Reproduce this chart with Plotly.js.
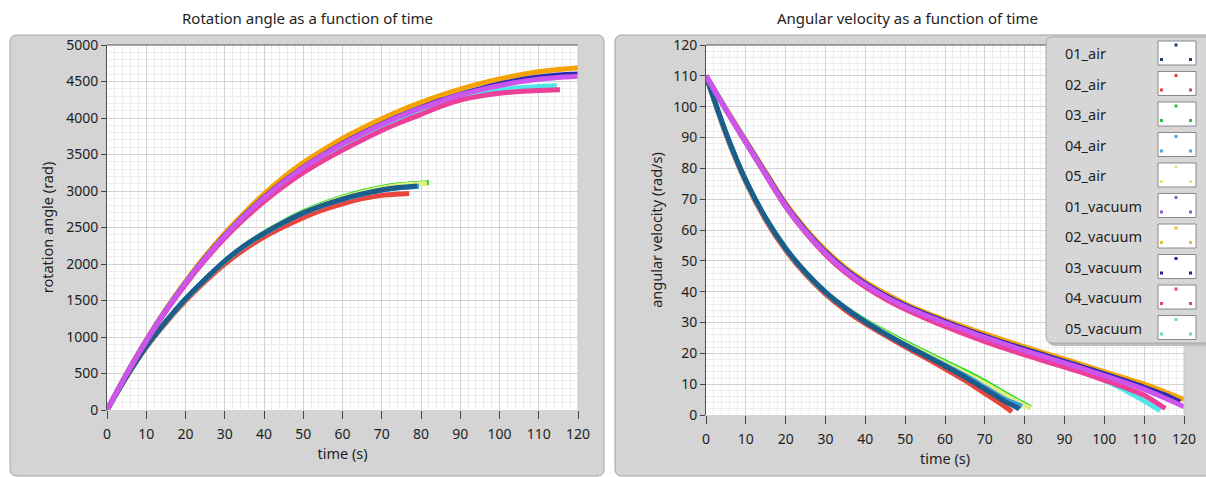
<!DOCTYPE html>
<html>
<head>
<meta charset="utf-8">
<script src="https://cdn.plot.ly/plotly-3.0.1.min.js"></script>
<style>html,body{margin:0;padding:0;background:#fff;}#chart{width:1206px;height:477px;}</style>
</head>
<body>
<div id="chart"></div>
<script>
// ---------- data ----------
const seriesNames = ["01_air","02_air","03_air","04_air","05_air","01_vacuum","02_vacuum","03_vacuum","04_vacuum","05_vacuum"];
const seriesColors = ["#1b5e8c","#e8453c","#22dd22","#3d9be0","#e2ee80","#cc55ee","#f5a300","#2b2bb5","#ec3f9a","#4ee6e6"];
const legendDotColors = ["#1f3f6f","#e04040","#30c040","#4aa3df","#d8ec80","#8a5ac8","#e0c030","#2020a0","#e0407a","#70d8c0"];

// time (s) for the rotation-angle series
const air01_t = [0,5,10,15,20,25,30,35,40,45,50,55,60,65,70,75,79];
const air02_t = [0,5,10,15,20,25,30,35,40,45,50,55,60,65,70,75,77];
const air03_t = [0,5,10,15,20,25,30,35,40,45,50,55,60,65,70,75,80,82];
const air04_t = [0,5,10,15,20,25,30,35,40,45,50,55,60,65,70,75,79.5];
const air05_t = [0,5,10,15,20,25,30,35,40,45,50,55,60,65,70,75,80,81.5];
const vac01_t = [0,5,10,15,20,25,30,35,40,45,50,55,60,65,70,75,80,85,90,95,100,105,110,115,120];
const vac02_t = [0,5,10,15,20,25,30,35,40,45,50,55,60,65,70,75,80,85,90,95,100,105,110,115,120];
const vac03_t = [0,5,10,15,20,25,30,35,40,45,50,55,60,65,70,75,80,85,90,95,100,105,110,115,120];
const vac04_t = [0,5,10,15,20,25,30,35,40,45,50,55,60,65,70,75,80,85,90,95,100,105,110,115.4];
const vac05_t = [0,5,10,15,20,25,30,35,40,45,50,55,60,65,70,75,80,85,90,95,100,105,110,114.6];

// rotation angle (rad)
const air01_angle = [0,460,870,1210,1520,1790,2040,2250,2420,2570,2700,2805,2890,2960,3015,3050,3070];
const air02_angle = [0,455,860,1195,1495,1760,2000,2200,2370,2510,2635,2740,2825,2895,2940,2960,2966];
const air03_angle = [0,460,870,1210,1520,1790,2040,2250,2425,2580,2715,2825,2915,2990,3050,3088,3108,3116];
const air04_angle = [0,462,872,1212,1522,1792,2040,2248,2418,2566,2695,2800,2885,2955,3012,3048,3066];
const air05_angle = [0,460,868,1208,1518,1788,2038,2248,2420,2572,2705,2815,2905,2978,3038,3078,3098,3106];
const vac01_angle = [0,495,950,1365,1740,2080,2385,2660,2905,3125,3320,3490,3645,3785,3912,4030,4135,4232,4315,4385,4445,4495,4532,4556,4572];
const vac02_angle = [0,500,960,1380,1760,2110,2420,2700,2960,3190,3390,3560,3720,3860,3990,4110,4215,4310,4395,4470,4535,4590,4635,4665,4690];
const vac03_angle = [0,496,951,1367,1743,2084,2390,2666,2911,3131,3326,3496,3651,3791,3918,4036,4142,4240,4325,4400,4465,4520,4562,4588,4602];
const vac04_angle = [0,490,940,1350,1720,2055,2355,2620,2855,3065,3250,3412,3560,3700,3830,3945,4050,4160,4245,4300,4338,4362,4377,4386];
const vac05_angle = [0,494,948,1362,1736,2075,2380,2652,2895,3112,3305,3474,3628,3766,3892,4005,4108,4200,4282,4340,4384,4414,4433,4442];

// time (s) for the angular-velocity series
const air01_vel_t = [0,5,10,15,20,25,30,35,40,45,50,55,60,65,70,75,78.7];
const air02_vel_t = [0,5,10,15,20,25,30,35,40,45,50,55,60,65,70,75,76.8];
const air03_vel_t = [0,5,10,15,20,25,30,35,40,45,50,55,60,65,70,75,80,81.5];
const air04_vel_t = [0,5,10,15,20,25,30,35,40,45,50,55,60,65,70,75,79.3];
const air05_vel_t = [0,5,10,15,20,25,30,35,40,45,50,55,60,65,70,75,80,81.5];
const vac01_vel_t = [0,5,10,15,20,25,30,35,40,45,50,55,60,65,70,75,80,85,90,95,100,105,110,115,120];
const vac02_vel_t = [0,5,10,15,20,25,30,35,40,45,50,55,60,65,70,75,80,85,90,95,100,105,110,115,120];
const vac03_vel_t = [0,5,10,15,20,25,30,35,40,45,50,55,60,65,70,75,80,85,90,95,100,105,110,115,119];
const vac04_vel_t = [0,5,10,15,20,25,30,35,40,45,50,55,60,65,70,75,80,85,90,95,100,105,110,115.3];
const vac05_vel_t = [0,5,10,15,20,25,30,35,40,45,50,55,60,65,70,75,80,85,90,95,100,105,110,114];

// angular velocity (rad/s)
const air01_vel = [110,91.5,76,63.8,54,46.2,39.8,34.6,30.2,26.3,22.7,19.3,15.9,12.3,8.4,4.4,2];
const air02_vel = [110,91,75.5,63.2,53.4,45.6,39.2,34,29.6,25.8,22.1,18.6,15,11.2,7,2.8,1.0];
const air03_vel = [110,91.5,76,63.8,54,46.2,39.8,34.8,30.6,27,23.6,20.4,17.3,14.2,10.8,7,3.4,2.4];
const air04_vel = [110,91.6,76.1,63.9,54.1,46.3,39.9,34.7,30.3,26.4,22.8,19.5,16.2,12.8,9,5.2,2.8];
const air05_vel = [110,91.5,76,63.8,54,46.2,39.8,34.7,30.4,26.7,23.2,20,16.8,13.6,10.2,6.5,3,2.2];
const vac01_vel = [110,99,88.5,78,67.8,59.5,52.5,46.8,42.2,38.4,35.2,32.4,29.9,27.5,25.2,23,20.9,18.9,16.9,14.9,12.8,10.6,8.3,5.6,2.7];
const vac02_vel = [110,99.3,89,78.7,68.6,60.4,53.5,47.8,43.2,39.4,36.1,33.3,30.8,28.5,26.3,24.2,22.1,20.1,18.1,16.1,14,12,10,7.6,5];
const vac03_vel = [110,99.1,88.7,78.3,68.1,59.9,52.9,47.2,42.6,38.8,35.6,32.8,30.3,27.9,25.6,23.4,21.4,19.4,17.4,15.4,13.3,11.2,9,6.6,4.2];
const vac04_vel = [110,98.9,88.3,77.8,67.5,59.1,52,46.2,41.5,37.6,34.3,31.4,28.7,26.2,23.8,21.6,19.5,17.5,15.5,13.5,11.3,9,6.4,2.1];
const vac05_vel = [110,99,88.4,77.9,67.6,59.3,52.2,46.5,41.9,38,34.8,32,29.5,27,24.7,22.5,20.4,18.4,16.3,14.1,11.3,8.2,4.6,1.4];

const angleX = [air01_t,air02_t,air03_t,air04_t,air05_t,vac01_t,vac02_t,vac03_t,vac04_t,vac05_t];
const angleY = [air01_angle,air02_angle,air03_angle,air04_angle,air05_angle,vac01_angle,vac02_angle,vac03_angle,vac04_angle,vac05_angle];
const velX = [air01_vel_t,air02_vel_t,air03_vel_t,air04_vel_t,air05_vel_t,vac01_vel_t,vac02_vel_t,vac03_vel_t,vac04_vel_t,vac05_vel_t];
const velY = [air01_vel,air02_vel,air03_vel,air04_vel,air05_vel,vac01_vel,vac02_vel,vac03_vel,vac04_vel,vac05_vel];

// drawing order (last on top)
const drawOrder = [1,2,4,3,0,6,7,9,8,5];

// ---------- geometry ----------
const W = 1206, H = 477;
const X = v => v / W, Y = v => 1 - v / H;
const FONT = "Noto Sans, DejaVu Sans, sans-serif";
const TXT = "#1e1e1e";

const traces = [];
drawOrder.forEach(i => {
  traces.push({x: angleX[i], y: angleY[i], type: "scatter", mode: "lines", name: seriesNames[i],
    line: {color: seriesColors[i], width: 5, shape: "spline", smoothing: 0.7},
    xaxis: "x", yaxis: "y", showlegend: false, hoverinfo: "skip"});
});
drawOrder.forEach(i => {
  traces.push({x: velX[i], y: velY[i], type: "scatter", mode: "lines", name: seriesNames[i],
    line: {color: seriesColors[i], width: 5, shape: "spline", smoothing: 0.7},
    xaxis: "x2", yaxis: "y2", showlegend: false, hoverinfo: "skip"});
});

function rr(x0, y0, x1, y1, r) {
  return `M${X(x0+r)},${Y(y0)} L${X(x1-r)},${Y(y0)} Q${X(x1)},${Y(y0)} ${X(x1)},${Y(y0+r)} ` +
         `L${X(x1)},${Y(y1-r)} Q${X(x1)},${Y(y1)} ${X(x1-r)},${Y(y1)} L${X(x0+r)},${Y(y1)} ` +
         `Q${X(x0)},${Y(y1)} ${X(x0)},${Y(y1-r)} L${X(x0)},${Y(y0+r)} Q${X(x0)},${Y(y0)} ${X(x0+r)},${Y(y0)} Z`;
}

const shapes = [
  {type: "path", xref: "paper", yref: "paper", path: rr(10, 35, 604, 476, 7), fillcolor: "#d4d4d4", line: {color: "#a2a2a2", width: 1}, layer: "below"},
  {type: "path", xref: "paper", yref: "paper", path: rr(615, 35, 1212, 476, 7), fillcolor: "#d4d4d4", line: {color: "#a2a2a2", width: 1}, layer: "below"},
  {type: "rect", xref: "x domain", yref: "y domain", x0: 0, x1: 1, y0: 0, y1: 1, fillcolor: "#ffffff", line: {width: 0}, layer: "below"},
  {type: "rect", xref: "x2 domain", yref: "y2 domain", x0: 0, x1: 1, y0: 0, y1: 1, fillcolor: "#ffffff", line: {width: 0}, layer: "below"},
  {type: "line", xref: "x domain", yref: "y domain", x0: 0, x1: 1, y0: 1, y1: 1, line: {color: "#505050", width: 1.2}},
  {type: "line", xref: "x2 domain", yref: "y2 domain", x0: 0, x1: 1, y0: 1, y1: 1, line: {color: "#505050", width: 1.2}},
  {type: "line", xref: "x domain", yref: "y domain", x0: 1, x1: 1, y0: 0, y1: 1, line: {color: "#c8c8c8", width: 1}},
  {type: "line", xref: "x2 domain", yref: "y2 domain", x0: 1, x1: 1, y0: 0, y1: 1, line: {color: "#c8c8c8", width: 1}},
];

// legend panel
const LX0 = 1046, LY0 = 37, LY1 = 343, ROW0 = 53, ROWH = 30.5;
shapes.push({type: "path", xref: "paper", yref: "paper", path: rr(LX0+2, LY0+2, 1214, LY1+3, 7), fillcolor: "#bdbdbd", line: {width: 0}, layer: "above"});
shapes.push({type: "path", xref: "paper", yref: "paper", path: rr(LX0, LY0, 1212, LY1, 7), fillcolor: "#d6d6d6", line: {color: "#a8a8a8", width: 1}, layer: "above"});
const annotations = [];
seriesNames.forEach((nm, i) => {
  const cy = ROW0 + i * ROWH;
  annotations.push({xref: "paper", yref: "paper", x: X(1063), y: Y(cy), xanchor: "left", yanchor: "middle",
    text: nm, showarrow: false, font: {family: FONT, size: 14.5, color: TXT}});
  shapes.push({type: "rect", xref: "paper", yref: "paper", x0: X(1158), x1: X(1196), y0: Y(cy - 12), y1: Y(cy + 12),
    fillcolor: "#ffffff", line: {color: "#8a8a8a", width: 1}, layer: "above"});
  [[1176, cy - 8], [1161.5, cy + 6.5], [1190.5, cy + 6.5]].forEach(([dx, dy]) => {
    shapes.push({type: "rect", xref: "paper", yref: "paper", x0: X(dx - 1.5), x1: X(dx + 1.5), y0: Y(dy - 1.5), y1: Y(dy + 1.5),
      fillcolor: legendDotColors[i], line: {width: 0}, layer: "above"});
  });
});

// panel titles
annotations.push({xref: "paper", yref: "paper", x: X(307), y: Y(18), xanchor: "center", yanchor: "middle",
  text: "Rotation angle as a function of time", showarrow: false, font: {family: FONT, size: 15, color: TXT}});
annotations.push({xref: "paper", yref: "paper", x: X(907), y: Y(18), xanchor: "center", yanchor: "middle",
  text: "Angular velocity as a function of time", showarrow: false, font: {family: FONT, size: 15, color: TXT}});

const axBase = {
  showgrid: true, gridcolor: "#d2d2d2", gridwidth: 1, zeroline: false,
  ticks: "outside", ticklen: 5, tickcolor: "#444", tickwidth: 1,
  tickfont: {family: FONT, size: 14, color: TXT}, automargin: false, fixedrange: true,
  minor: {showgrid: true, gridcolor: "#ededed", gridwidth: 1, ticks: ""}
};
const titleFont = {family: FONT, size: 14.5, color: TXT};

const layout = {
  width: W, height: H, margin: {l: 0, r: 0, t: 0, b: 0},
  paper_bgcolor: "#ffffff", plot_bgcolor: "#ffffff", showlegend: false,
  xaxis: Object.assign({}, axBase, {domain: [X(107), X(578)], range: [0, 120], dtick: 10, tick0: 0, ticklen: 8, ticklabelstandoff: 3,
    minor: Object.assign({}, axBase.minor, {dtick: 2}), anchor: "y", showline: false,
    title: {text: "time (s)", font: titleFont, standoff: 3}}),
  yaxis: Object.assign({}, axBase, {domain: [Y(410), Y(45)], range: [0, 5000], dtick: 500, tick0: 0,
    minor: Object.assign({}, axBase.minor, {dtick: 100}), anchor: "x", showline: true, linecolor: "#505050", linewidth: 1,
    title: {text: "rotation angle (rad)", font: titleFont, standoff: 9}}),
  xaxis2: Object.assign({}, axBase, {domain: [X(706), X(1184)], range: [0, 120], dtick: 10, tick0: 0, ticklen: 8, ticklabelstandoff: 3,
    minor: Object.assign({}, axBase.minor, {dtick: 2}), anchor: "y2", showline: false,
    title: {text: "time (s)", font: titleFont, standoff: 5}}),
  yaxis2: Object.assign({}, axBase, {domain: [Y(415), Y(45)], range: [0, 120], dtick: 10, tick0: 0,
    minor: Object.assign({}, axBase.minor, {dtick: 2}), anchor: "x2", showline: true, linecolor: "#505050", linewidth: 1,
    title: {text: "angular velocity (rad/s)", font: titleFont, standoff: 7}}),
  shapes: shapes,
  annotations: annotations
};

Plotly.newPlot("chart", traces, layout, {displayModeBar: false, staticPlot: true});
</script>
</body>
</html>
